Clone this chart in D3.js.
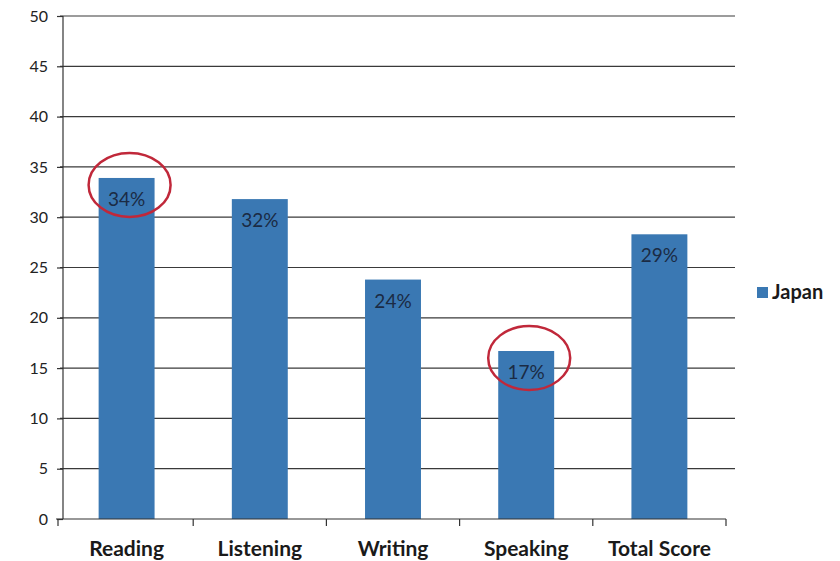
<!DOCTYPE html>
<html><head><meta charset="utf-8">
<script src="https://cdn.jsdelivr.net/npm/d3@7"></script>
<style>body{margin:0;background:#fff;}</style>
</head><body>
<svg id="c" width="840" height="561"></svg>
<script>
const categories = ["Reading", "Listening", "Writing", "Speaking", "Total Score"];
const values = [33.9, 31.8, 23.8, 16.7, 28.3];
const valueLabels = ["34%", "32%", "24%", "17%", "29%"];
const yTicks = [0, 5, 10, 15, 20, 25, 30, 35, 40, 45, 50];
const seriesName = "Japan";
const circled = ["Reading", "Speaking"];

const svg = d3.select("#c");
const m = {left: 60, right: 114, top: 16, bottom: 42};
const x = d3.scaleBand().domain(categories).range([m.left, 726]).paddingInner(0.58).paddingOuter(0.29);
const y = d3.scaleLinear().domain([0, 50]).range([519, 16]);
const font = "Lato, 'Open Sans', sans-serif";
const barColor = "#3a78b3";

// gridlines
svg.append("g").selectAll("line").data(yTicks.filter(d => d > 0)).join("line")
  .attr("x1", m.left).attr("x2", 735)
  .attr("y1", d => y(d)).attr("y2", d => y(d))
  .attr("stroke", "#3a3a3a").attr("stroke-width", 1.2);

// bars
svg.append("g").selectAll("rect").data(categories).join("rect")
  .attr("x", d => x(d)).attr("width", x.bandwidth())
  .attr("y", (d, i) => y(values[i])).attr("height", (d, i) => y(0) - y(values[i]))
  .attr("fill", barColor);

// value labels
svg.append("g").selectAll("text").data(categories).join("text")
  .attr("x", d => x(d) + x.bandwidth() / 2)
  .attr("y", (d, i) => y(values[i]) + 28)
  .attr("text-anchor", "middle")
  .attr("font-family", font).attr("font-size", 19).attr("fill", "#1b2b44")
  .text((d, i) => valueLabels[i]);

// y axis
const yAxis = d3.axisLeft(y).tickValues(yTicks).tickSize(6).tickPadding(9);
const gy = svg.append("g").attr("transform", `translate(${m.left + 3},0)`).call(yAxis);
gy.select(".domain").attr("stroke", "#333").attr("stroke-width", 1.2).attr("d", `M0,${y(50)}V${y(0)}`);
gy.selectAll(".tick line").attr("stroke", "#333").attr("stroke-width", 1.2);
gy.selectAll(".tick text").attr("font-family", font).attr("font-size", 16).attr("fill", "#222");

// x axis
const xAxis = d3.axisBottom(x).tickSize(0).tickPadding(22);
const gx = svg.append("g").attr("transform", `translate(0,${y(0)})`).call(xAxis);
gx.select(".domain").attr("stroke", "#333").attr("stroke-width", 1.2).attr("d", `M${m.left - 4},0H726`);
gx.selectAll(".tick text").attr("font-family", font).attr("font-size", 21).attr("font-weight", "bold").attr("fill", "#1a1a1a");
// category boundary ticks
const bounds = categories.map(c => x(c) - x.step() * x.paddingInner() / 2).concat([726]);
bounds[0] = m.left - 2;
gx.append("g").selectAll("line").data(bounds).join("line")
  .attr("x1", d => d).attr("x2", d => d).attr("y1", 0).attr("y2", 7)
  .attr("stroke", "#333").attr("stroke-width", 1.2);

// red ellipses
svg.append("g").selectAll("ellipse").data(circled).join("ellipse")
  .attr("cx", d => x(d) + x.bandwidth() / 2 + 3)
  .attr("cy", d => y(values[categories.indexOf(d)]) + 7)
  .attr("rx", 41).attr("ry", 32)
  .attr("fill", "none").attr("stroke", "#c0283a").attr("stroke-width", 2.5);

// legend
const lg = svg.append("g").attr("transform", "translate(757,287)");
lg.append("rect").attr("width", 11).attr("height", 11).attr("fill", barColor);
lg.append("text").attr("x", 15).attr("y", 12).attr("font-family", font).attr("font-size", 20)
  .attr("font-weight", "bold").attr("fill", "#1a1a1a").text(seriesName);
</script>
</body></html>
